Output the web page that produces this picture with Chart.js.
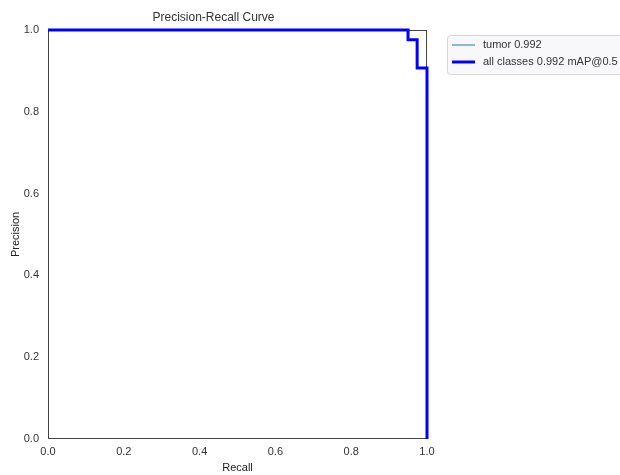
<!DOCTYPE html>
<html>
<head>
<meta charset="utf-8">
<script src="https://cdn.jsdelivr.net/npm/chart.js@4"></script>
<style>
  html, body { margin: 0; padding: 0; background: #fff; }
  #wrap { width: 620px; height: 475px; }
</style>
</head>
<body>
<div id="wrap"><canvas id="prCurve" width="620" height="475"></canvas></div>
<script>
// values
var recall = [0, 0.95, 0.95, 0.974, 0.974, 1.0, 1.0];
var precision = [1, 1, 0.976, 0.976, 0.907, 0.907, 0];
var seriesLabels = ['tumor 0.992', 'all classes 0.992 mAP@0.5'];
var ticks = [0, 0.2, 0.4, 0.6, 0.8, 1.0];

function toPoints(xs, ys) {
    return xs.map(function (x, i) { return { x: x, y: ys[i] }; });
}

Chart.defaults.font.family = '"Liberation Sans", Arial, sans-serif';
Chart.defaults.color = '#333';

// frame round the plot + legend box at the right
var framePlugin = {
    id: 'frame',
    beforeDatasetsDraw: function (chart) {
        var a = chart.chartArea, c = chart.ctx;
        c.save();
        c.strokeStyle = '#444';
        c.lineWidth = 1;
        c.strokeRect(a.left + 0.5, a.top + 0.5, a.right - a.left - 1, a.bottom - a.top - 1);
        c.restore();
    },
    afterDraw: function (chart) {
        var c = chart.ctx;
        var x0 = 447, y0 = 35, w = 185, h = 39;
        c.save();
        c.fillStyle = '#f8f8fa';
        c.strokeStyle = '#d6d6d6';
        c.lineWidth = 1;
        c.beginPath();
        c.roundRect(x0 + 0.5, y0 + 0.5, w, h, 3);
        c.fill();
        c.stroke();
        chart.data.datasets.forEach(function (ds, i) {
            var ly = y0 + 10 + i * 17;
            c.strokeStyle = ds.borderColor;
            c.lineWidth = ds.borderWidth;
            c.beginPath();
            c.moveTo(x0 + 5, ly);
            c.lineTo(x0 + 28, ly);
            c.stroke();
            c.fillStyle = '#333';
            c.font = '11px "Liberation Sans", Arial, sans-serif';
            c.textBaseline = 'middle';
            c.fillText(ds.label, x0 + 36, ly);
        });
        c.restore();
    }
};

new Chart(document.getElementById('prCurve').getContext('2d'), {
    type: 'scatter',
    data: {
        datasets: [{
            label: seriesLabels[0],
            data: toPoints(recall, precision),
            showLine: true,
            borderColor: '#1f77b4',
            borderWidth: 1,
            pointRadius: 0,
            order: 1,
            clip: 2
        }, {
            label: seriesLabels[1],
            data: toPoints(recall, precision),
            showLine: true,
            borderColor: '#0000ff',
            borderWidth: 3,
            pointRadius: 0,
            order: 0,
            clip: 2
        }]
    },
    options: {
        responsive: false,
        animation: false,
        layout: { padding: { top: 0, right: 193, left: 0, bottom: 0 } },
        plugins: {
            legend: { display: false },
            tooltip: { enabled: false },
            title: {
                display: true,
                text: 'Precision-Recall Curve',
                font: { size: 12, weight: 'normal' },
                color: '#333',
                padding: { top: 10, bottom: 5.6 }
            }
        },
        scales: {
            x: {
                type: 'linear',
                min: 0, max: 1,
                afterBuildTicks: function (s) { s.ticks = ticks.map(function (v) { return { value: v }; }); },
                afterFit: function (s) { s.height = 36; },
                grid: { display: false, drawTicks: false },
                border: { display: false },
                ticks: { padding: 6, font: { size: 11 }, callback: function (v) { return v.toFixed(1); } },
                title: { display: true, text: 'Recall', font: { size: 11 }, color: '#222', padding: 0 }
            },
            y: {
                type: 'linear',
                min: 0, max: 1,
                afterBuildTicks: function (s) { s.ticks = ticks.map(function (v) { return { value: v }; }); },
                afterFit: function (s) { s.width = 48; },
                grid: { display: false, drawTicks: false },
                border: { display: false },
                ticks: { padding: 9, font: { size: 11 }, callback: function (v) { return v.toFixed(1); } },
                title: { display: true, text: 'Precision', font: { size: 11 }, color: '#222', padding: { top: 9, bottom: 0 } }
            }
        }
    },
    plugins: [framePlugin]
});
</script>
</body>
</html>
